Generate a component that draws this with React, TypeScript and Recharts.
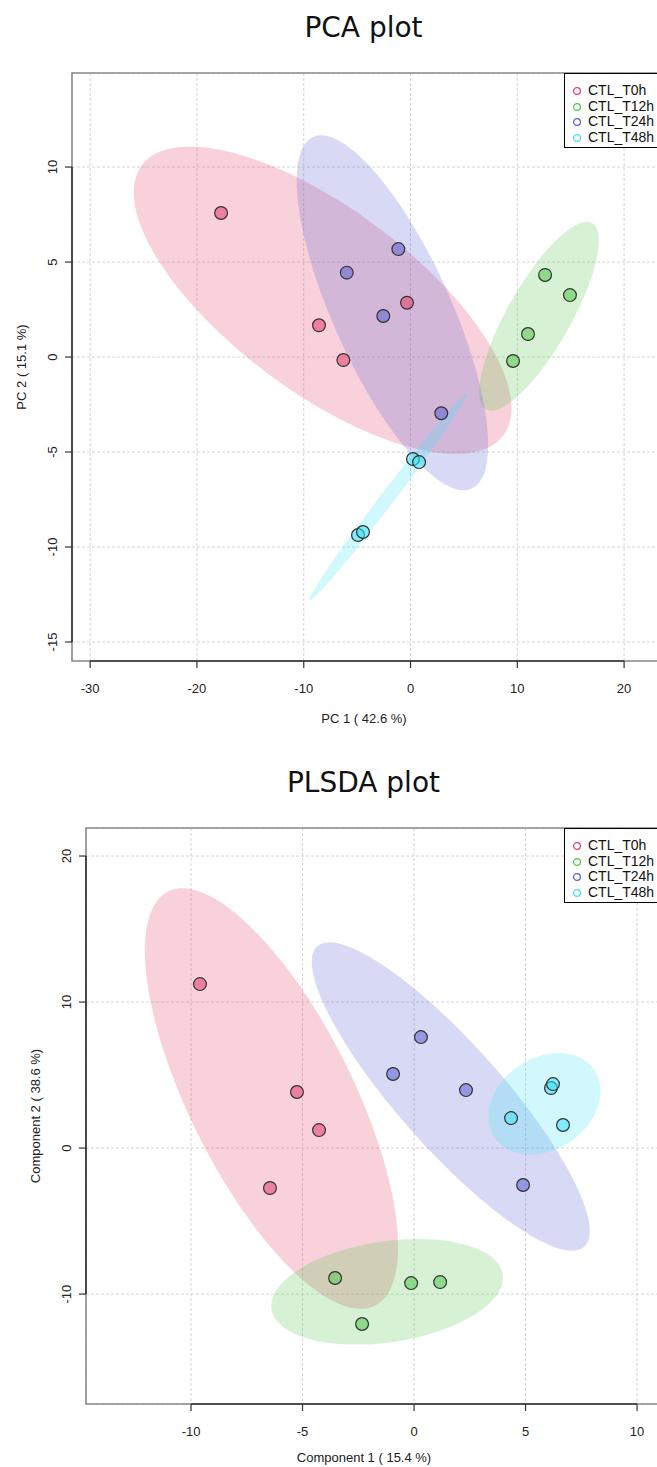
import React from "react"
import {
  ScatterChart,
  Scatter,
  XAxis,
  YAxis,
  CartesianGrid,
  ReferenceLine,
  ReferenceArea,
} from "recharts"

type Pt = { x: number; y: number }

const groups = ["CTL_T0h", "CTL_T12h", "CTL_T24h", "CTL_T48h"]
const groupColors = ["#E4406A", "#55C64D", "#5A63D4", "#3FE2F6"]

// PCA scores
const pcaT0h: Pt[] = [
  { x: -17.74, y: 7.58 },
  { x: -8.57, y: 1.67 },
  { x: -6.29, y: -0.16 },
  { x: -0.33, y: 2.86 },
]
const pcaT12h: Pt[] = [
  { x: 9.6, y: -0.21 },
  { x: 11.0, y: 1.21 },
  { x: 12.6, y: 4.32 },
  { x: 14.93, y: 3.26 },
]
const pcaT24h: Pt[] = [
  { x: -1.14, y: 5.68 },
  { x: -5.97, y: 4.44 },
  { x: -2.55, y: 2.16 },
  { x: 2.88, y: -2.96 },
]
const pcaT48h: Pt[] = [
  { x: 0.23, y: -5.37 },
  { x: 0.8, y: -5.53 },
  { x: -4.92, y: -9.37 },
  { x: -4.45, y: -9.21 },
]
const pcaXTicks = [-30, -20, -10, 0, 10, 20]
const pcaYTicks = [-15, -10, -5, 0, 5, 10]

// PLS-DA scores
const plsT0h: Pt[] = [
  { x: -9.6, y: 11.23 },
  { x: -5.25, y: 3.84 },
  { x: -4.26, y: 1.23 },
  { x: -6.46, y: -2.74 },
]
const plsT12h: Pt[] = [
  { x: -3.54, y: -8.9 },
  { x: -2.33, y: -12.05 },
  { x: -0.13, y: -9.25 },
  { x: 1.17, y: -9.18 },
]
const plsT24h: Pt[] = [
  { x: -0.94, y: 5.07 },
  { x: 0.31, y: 7.6 },
  { x: 2.33, y: 3.97 },
  { x: 4.89, y: -2.53 },
]
const plsT48h: Pt[] = [
  { x: 4.35, y: 2.05 },
  { x: 6.14, y: 4.11 },
  { x: 6.23, y: 4.38 },
  { x: 6.68, y: 1.58 },
]
const plsXTicks = [-10, -5, 0, 5, 10]
const plsYTicks = [-10, 0, 10, 20]

// 95% confidence ellipse, same construction as ellipse::ellipse in R
function confEllipse(pts: Pt[], n = 120): Pt[] {
  const m = pts.length
  const mx = pts.reduce((s, p) => s + p.x, 0) / m
  const my = pts.reduce((s, p) => s + p.y, 0) / m
  const vx = pts.reduce((s, p) => s + (p.x - mx) ** 2, 0) / (m - 1)
  const vy = pts.reduce((s, p) => s + (p.y - my) ** 2, 0) / (m - 1)
  const cxy = pts.reduce((s, p) => s + (p.x - mx) * (p.y - my), 0) / (m - 1)
  const sx = Math.sqrt(vx)
  const sy = Math.sqrt(vy)
  const r = Math.max(-1, Math.min(1, cxy / (sx * sy)))
  const t = Math.sqrt(5.991465)
  const d = Math.acos(r)
  const out: Pt[] = []
  for (let i = 0; i < n; i++) {
    const a = (2 * Math.PI * i) / n
    out.push({ x: mx + t * sx * Math.cos(a + d / 2), y: my + t * sy * Math.cos(a - d / 2) })
  }
  return out
}

const FONT = "'Liberation Sans', Arial, sans-serif"

const LegendBox = ({ left, top }: { left: number; top: number }) => (
  <div
    style={{
      position: "absolute",
      left,
      top,
      border: "1px solid #000",
      background: "#fff",
      width: 130,
      height: 75,
      boxSizing: "border-box",
      paddingTop: 9,
      paddingLeft: 6,
      fontFamily: FONT,
      fontSize: 14,
      lineHeight: "15.7px",
      color: "#111",
      zIndex: 2,
    }}
  >
    {groups.map((g, i) => (
      <div key={g} style={{ display: "flex", alignItems: "center", height: 15.7 }}>
        <svg width={12} height={12} style={{ marginRight: 5 }}>
          <circle cx={6} cy={6} r={3.4} fill="none" stroke={groupColors[i]} strokeWidth={1.3} />
        </svg>
        <span>{g}</span>
      </div>
    ))}
  </div>
)

interface PanelProps {
  top: number
  title: string
  xLabel: string
  yLabel: string
  sets: Pt[][]
  xDomain: [number, number]
  yDomain: [number, number]
  xTicks: number[]
  yTicks: number[]
  boxLeft: number
  plotHeight: number
  bottomSpace: number
  xLabelOffset: number
}

function Panel({
  top,
  title,
  xLabel,
  yLabel,
  sets,
  xDomain,
  yDomain,
  xTicks,
  yTicks,
  boxLeft,
  plotHeight,
  bottomSpace,
  xLabelOffset,
}: PanelProps) {
  const width = 720
  const marginTop = 73
  const height = marginTop + plotHeight + bottomSpace
  const boxBottom = marginTop + plotHeight
  return (
    <div style={{ position: "absolute", left: 0, top, width, height }}>
      <div
        style={{
          position: "absolute",
          left: 0,
          width: 727,
          top: 8,
          textAlign: "center",
          fontFamily: "'DejaVu Sans', sans-serif",
          fontSize: 28,
          lineHeight: "40px",
          color: "#111",
        }}
      >
        {title}
      </div>
      <ScatterChart width={width} height={height} margin={{ top: marginTop, right: 0, left: 0, bottom: 0 }}>
        <CartesianGrid stroke="#d4d4d4" strokeDasharray="3 2" />
        <XAxis
          type="number"
          dataKey="x"
          domain={xDomain}
          ticks={xTicks}
          allowDataOverflow
          axisLine={false}
          tickLine={{ stroke: "#333", strokeWidth: 1.2 }}
          tickSize={7}
          height={bottomSpace}
          tick={(p: any) => (
            <text x={p.x} y={boxBottom + 32} textAnchor="middle" fontFamily={FONT} fontSize={13} fill="#222">
              {p.payload.value}
            </text>
          )}
          label={{
            content: () => (
              <text x={364} y={boxBottom + xLabelOffset} textAnchor="middle" fontFamily={FONT} fontSize={13} fill="#222">
                {xLabel}
              </text>
            ),
          }}
        />
        <YAxis
          type="number"
          dataKey="y"
          domain={yDomain}
          ticks={yTicks}
          allowDataOverflow
          axisLine={false}
          tickLine={{ stroke: "#333", strokeWidth: 1.2 }}
          tickSize={7}
          width={boxLeft}
          tick={(p: any) => {
            const bx = boxLeft - 15
            return (
              <text
                x={bx}
                y={p.y}
                transform={`rotate(-90 ${bx} ${p.y})`}
                textAnchor="middle"
                fontFamily={FONT}
                fontSize={13}
                fill="#222"
              >
                {p.payload.value}
              </text>
            )
          }}
          label={{
            content: () => {
              const lx = boxLeft - 46
              const ly = marginTop + plotHeight / 2
              return (
                <text
                  x={lx}
                  y={ly}
                  transform={`rotate(-90 ${lx} ${ly})`}
                  textAnchor="middle"
                  fontFamily={FONT}
                  fontSize={13}
                  fill="#222"
                >
                  {yLabel}
                </text>
              )
            },
          }}
        />
        {sets.map((pts, i) => (
          <Scatter
            key={`ell-${groups[i]}`}
            data={confEllipse(pts)}
            fill={groupColors[i]}
            isAnimationActive={false}
            legendType="none"
            line={(lp: any) => (
              <path
                d={lp.points.map((q: any, k: number) => `${k ? "L" : "M"}${q.x},${q.y}`).join("") + "Z"}
                fill={groupColors[i]}
                fillOpacity={0.24}
                stroke="none"
              />
            )}
            lineType="joint"
            shape={() => <g />}
          />
        ))}
        {sets.map((pts, i) => (
          <Scatter
            key={`pts-${groups[i]}`}
            name={groups[i]}
            data={pts}
            fill={groupColors[i]}
            isAnimationActive={false}
            shape={(sp: any) => (
              <circle
                cx={sp.cx}
                cy={sp.cy}
                r={6.4}
                fill={groupColors[i]}
                fillOpacity={0.55}
                stroke="#333"
                strokeWidth={1.2}
              />
            )}
          />
        ))}
        <ReferenceArea
          x1={xDomain[0]}
          x2={xDomain[1]}
          y1={yDomain[0]}
          y2={yDomain[1]}
          fill="none"
          stroke="#8a8a8a"
          strokeWidth={1.6}
          ifOverflow="visible"
        />
        <ReferenceLine
          segment={[
            { x: xTicks[0], y: yDomain[0] },
            { x: xTicks[xTicks.length - 1], y: yDomain[0] },
          ]}
          stroke="#333"
          strokeWidth={1.6}
          ifOverflow="visible"
        />
        <ReferenceLine
          segment={[
            { x: xDomain[0], y: yTicks[0] },
            { x: xDomain[0], y: yTicks[yTicks.length - 1] },
          ]}
          stroke="#333"
          strokeWidth={1.6}
          ifOverflow="visible"
        />
      </ScatterChart>
      <LegendBox left={564} top={marginTop} />
    </div>
  )
}

export default function App() {
  return (
    <div
      style={{
        position: "absolute",
        left: 0,
        top: 0,
        width: 657,
        height: 1467,
        overflow: "hidden",
        background: "#fff",
      }}
    >
      <Panel
        top={0}
        title="PCA plot"
        xLabel="PC 1 ( 42.6 %)"
        yLabel="PC 2 ( 15.1 %)"
        sets={[pcaT0h, pcaT12h, pcaT24h, pcaT48h]}
        xDomain={[-31.7, 28.98]}
        yDomain={[-16.0, 14.95]}
        xTicks={pcaXTicks}
        yTicks={pcaYTicks}
        boxLeft={72}
        plotHeight={588}
        bottomSpace={79}
        xLabelOffset={62}
      />
      <Panel
        top={755}
        title="PLSDA plot"
        xLabel="Component 1 ( 15.4 %)"
        yLabel="Component 2 ( 38.6 %)"
        sets={[plsT0h, plsT12h, plsT24h, plsT48h]}
        xDomain={[-14.71, 13.72]}
        yDomain={[-17.53, 21.92]}
        xTicks={plsXTicks}
        yTicks={plsYTicks}
        boxLeft={86}
        plotHeight={576}
        bottomSpace={63}
        xLabelOffset={58}
      />
    </div>
  )
}
